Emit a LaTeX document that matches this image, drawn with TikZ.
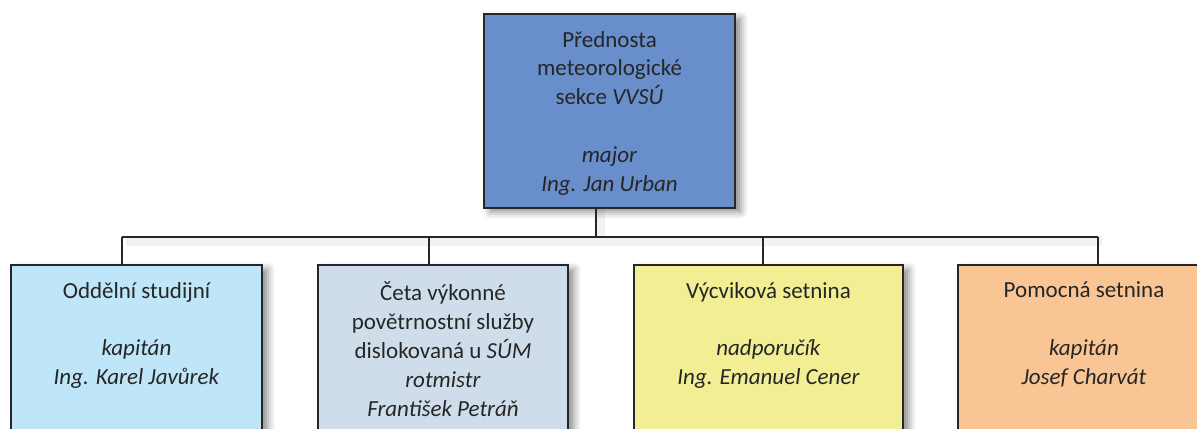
\documentclass[tikz,border=0pt]{standalone}
\usepackage{fontspec}
\setmainfont{Carlito}
\usetikzlibrary{shadows.blur}

\definecolor{inkc}{HTML}{262626}
\definecolor{edgec}{HTML}{262626}
\definecolor{headc}{RGB}{104,142,203}
\definecolor{studc}{RGB}{190,229,248}
\definecolor{cetac}{RGB}{207,221,235}
\definecolor{vycc}{RGB}{241,238,148}
\definecolor{pomc}{RGB}{250,197,148}

\tikzset{
  orgbox/.style={draw=edgec, line width=1.25pt, inner sep=0pt,
    minimum height=100pt,
    blur shadow={shadow xshift=3pt, shadow yshift=-2pt,
      shadow blur radius=3.5pt, shadow opacity=45}},
  orgtext/.style={anchor=north, align=center, text=inkc, inner sep=0pt,
    font=\fontsize{11.5pt}{14.4pt}\selectfont},
  link/.style={draw=edgec, line width=1pt},
  linkshade/.style={draw=black, line width=5pt, opacity=0.05}
}

\begin{document}
\begin{tikzpicture}[x=0.5pt, y=-0.5pt]
  \useasboundingbox (0,0) rectangle (1197,428);
  \clip (0,0) rectangle (1197,428);

  % junction points on the bus
  \coordinate (j0) at (596,237);
  \coordinate (j1) at (122,237);
  \coordinate (j2) at (429,237);
  \coordinate (j3) at (763,237);
  \coordinate (j4) at (1098,237);

  % head box
  \node[orgbox, fill=headc, minimum width=125.5pt, minimum height=97pt]
        (head) at (609.5,111) {};
  \node[orgtext, anchor=center] (th) at ([yshift=-1pt]head.center)
        {Přednosta\\meteorologické\\sekce \textit{VVSÚ}\\[14.4pt]
         \textit{major}\\\textit{Ing. Jan Urban}};

  % connector shading
  \draw[linkshade] ([xshift=2pt,yshift=-2pt]j1) -- ([xshift=2pt,yshift=-2pt]j4);
  \draw[linkshade] ([xshift=2pt]j0 |- head.south) -- ([xshift=2pt]j0);

  % unit boxes
  \node[orgbox, fill=studc, minimum width=125.5pt] (b1) at (136.5,365) {};
  \node[orgbox, fill=cetac, minimum width=125pt]   (b2) at (443,365) {};
  \node[orgbox, fill=vycc,  minimum width=134.5pt] (b3) at (768.5,365) {};
  \node[orgbox, fill=pomc,  minimum width=126pt]   (b4) at (1084,365) {};

  % connectors
  \draw[link] (j0 |- head.south) -- (j0);
  \draw[link] (j1) -- (j4);
  \draw[link] (j1) -- (j1 |- b1.north);
  \draw[link] (j2) -- (j2 |- b2.north);
  \draw[link] (j3) -- (j3 |- b3.north);
  \draw[link] (j4) -- (j4 |- b4.north);

  % unit texts
  \node[orgtext] (t1) at ([yshift=-9pt]b1.north)
    {Oddělní studijní\\[14.4pt]\textit{kapitán}\\\textit{Ing. Karel Javůrek}};
  \node[orgtext] (t2) at ([yshift=-9pt]b2.north)
    {Četa výkonné\\povětrnostní služby\\dislokovaná u \textit{SÚM}\\
     \textit{rotmistr}\\\textit{František Petráň}};
  \node[orgtext] (t3) at ([yshift=-9pt]b3.north)
    {Výcviková setnina\\[14.4pt]\textit{nadporučík}\\\textit{Ing. Emanuel Cener}};
  \node[orgtext] (t4) at ([yshift=-9pt]b4.north)
    {Pomocná setnina\\[14.4pt]\textit{kapitán}\\\textit{Josef Charvát}};
\end{tikzpicture}
\end{document}
